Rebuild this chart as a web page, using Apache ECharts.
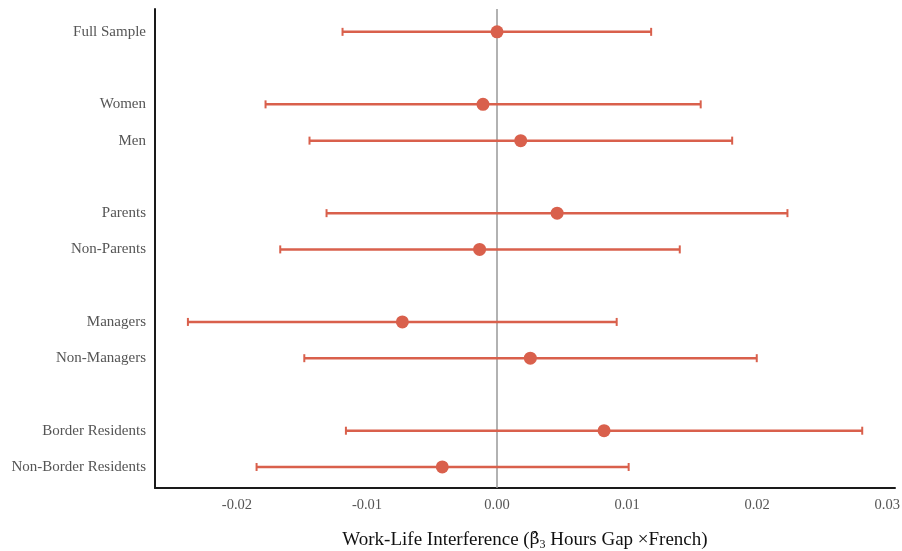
<!DOCTYPE html>
<html>
<head>
<meta charset="utf-8">
<script src="https://cdn.jsdelivr.net/npm/echarts@6/dist/echarts.min.js"></script>
<style>
  html, body { margin: 0; padding: 0; background: #fff; }
  #chart { width: 902px; height: 551px; }
</style>
</head>
<body>
<div id="chart"></div>
<script>
// subgroup rows, slot = position on the vertical axis (gaps between groups)
const rowNames = ['Full Sample', 'Women', 'Men', 'Parents', 'Non-Parents', 'Managers', 'Non-Managers', 'Border Residents', 'Non-Border Residents'];
const rowSlots = [0, 2, 3, 5, 6, 8, 9, 11, 12];
const estimates = [0.0000, -0.00108, 0.00182, 0.00462, -0.00134, -0.00728, 0.00256, 0.00823, -0.00421];
const lowerCI = [-0.01188, -0.0178, -0.01442, -0.01311, -0.01667, -0.02377, -0.01482, -0.01162, -0.01849];
const upperCI = [0.01185, 0.01566, 0.01808, 0.02233, 0.01405, 0.0092, 0.01997, 0.02808, 0.01012];
const xTicks = [-0.02, -0.01, 0.00, 0.01, 0.02, 0.03];

const barColor = '#D9604C';
const serif = '"Liberation Serif", "Times New Roman", serif';

let errData = rowSlots.map((s, i) => [lowerCI[i], upperCI[i], s]);
let ptData = rowSlots.map((s, i) => [estimates[i], s]);

let myChart = echarts.init(document.getElementById('chart'));
let option = {
  animation: false,
  grid: { left: 155, right: 7, top: 9, bottom: 63, outerBoundsMode: 'none', containLabel: false },
  xAxis: {
    type: 'value',
    min: -0.0263,
    max: 0.0306,
    splitLine: { show: false },
    axisTick: { show: false },
    axisLine: { show: true, onZero: false, lineStyle: { color: '#1a1a1a', width: 2 } },
    axisLabel: {
      customValues: xTicks,
      formatter: v => v.toFixed(2),
      fontFamily: serif,
      fontSize: 14.5,
      color: '#555',
      margin: 10
    },
    name: '{a|Work-Life Interference (}{b|β\u0302}{s|3}{a| Hours Gap ×French)}',
    nameLocation: 'middle',
    nameGap: 41,
    nameTextStyle: {
      rich: {
        a: { fontFamily: serif, fontSize: 19, color: '#111' },
        b: { fontFamily: '"DejaVu Serif", serif', fontSize: 17, color: '#111' },
        s: { fontFamily: serif, fontSize: 12, color: '#111', padding: [10, 0, 0, 0] }
      }
    }
  },
  yAxis: {
    type: 'value',
    inverse: true,
    min: -0.63,
    max: 12.58,
    splitLine: { show: false },
    axisTick: { show: false },
    axisLine: { show: true, onZero: false, lineStyle: { color: '#1a1a1a', width: 2 } },
    axisLabel: {
      customValues: rowSlots,
      formatter: v => rowNames[rowSlots.indexOf(v)] || '',
      fontFamily: serif,
      fontSize: 15,
      color: '#555',
      margin: 9
    }
  },
  series: [
    {
      // 零线
      type: 'line',
      data: [],
      z: 1,
      markLine: {
        silent: true,
        z: 1,
        symbol: 'none',
        label: { show: false },
        lineStyle: { color: '#999', width: 1.5, type: 'solid' },
        data: [{ xAxis: 0 }]
      }
    },
    {
      type: 'custom',
      data: errData,
      renderItem: function (params, api) {
        let p1 = api.coord([api.value(0), api.value(2)]);
        let p2 = api.coord([api.value(1), api.value(2)]);
        let h = 4;
        let st = { stroke: barColor, lineWidth: 2.5 };
        return {
          type: 'group',
          children: [
            { type: 'line', shape: { x1: p1[0], y1: p1[1], x2: p2[0], y2: p2[1] }, style: st },
            { type: 'line', shape: { x1: p1[0], y1: p1[1] - h, x2: p1[0], y2: p1[1] + h }, style: { stroke: barColor, lineWidth: 2 } },
            { type: 'line', shape: { x1: p2[0], y1: p2[1] - h, x2: p2[0], y2: p2[1] + h }, style: { stroke: barColor, lineWidth: 2 } }
          ]
        };
      },
      z: 2
    },
    {
      type: 'scatter',
      data: ptData,
      symbol: 'circle',
      symbolSize: 13,
      itemStyle: { color: barColor, opacity: 1 },
      z: 3
    }
  ]
};
myChart.setOption(option);
</script>
</body>
</html>
